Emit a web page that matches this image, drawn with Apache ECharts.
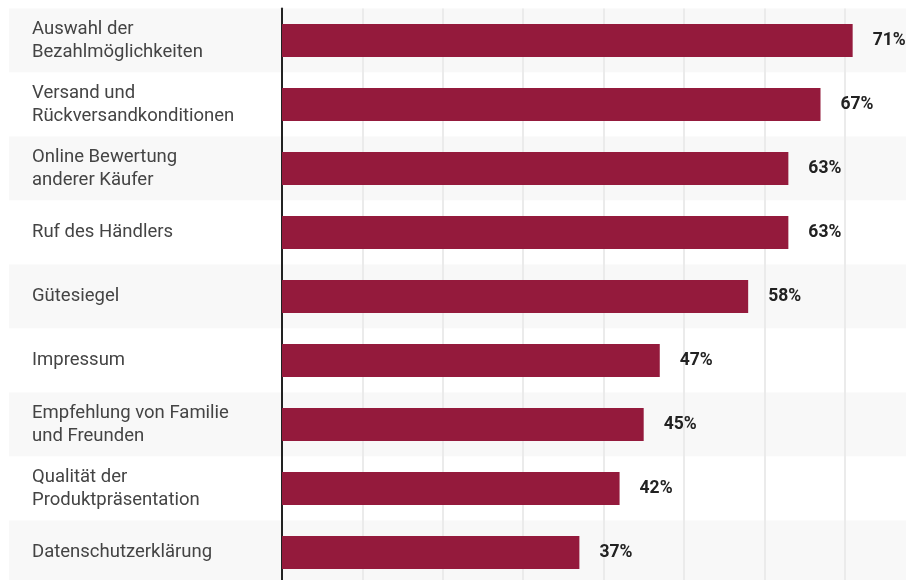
<!DOCTYPE html>
<html>
<head>
<meta charset="utf-8">
<script src="https://cdn.jsdelivr.net/npm/echarts@6/dist/echarts.min.js"></script>
<style>
  html, body { margin: 0; padding: 0; background: #fff; }
  #chart { width: 906px; height: 580px; }
</style>
</head>
<body>
<div id="chart"></div>
<script>
// Kriterien beim Online-Einkauf (Anteil der Befragten in %)
const categories = [
  'Auswahl der\nBezahlmöglichkeiten',
  'Versand und\nRückversandkonditionen',
  'Online Bewertung\nanderer Käufer',
  'Ruf des Händlers',
  'Gütesiegel',
  'Impressum',
  'Empfehlung von Familie\nund Freunden',
  'Qualität der\nProduktpräsentation',
  'Datenschutzerklärung'
];
const values = [71, 67, 63, 63, 58, 47, 45, 42, 37];

const chart = echarts.init(document.getElementById('chart'), null, { renderer: 'canvas' });

const font = 'Roboto, "Noto Sans", sans-serif';

chart.setOption({
  animation: false,
  backgroundColor: '#ffffff',
  grid: [
    // full-width row bands behind everything
    { left: 9, top: 8.5, width: 920, height: 576, containLabel: false, outerBoundsMode: 'none' },
    // plotting area
    { left: 282, top: 8.5, width: 643, height: 576, containLabel: false, outerBoundsMode: 'none' }
  ],
  xAxis: [
    { gridIndex: 0, type: 'value', min: 0, max: 1, show: false },
    {
      gridIndex: 1,
      type: 'value',
      min: 0,
      max: 80,
      interval: 10,
      axisLine: { show: false },
      axisTick: { show: false },
      axisLabel: { show: false },
      splitLine: { show: true, lineStyle: { color: '#ebebeb', width: 2 } }
    }
  ],
  yAxis: [
    {
      gridIndex: 0,
      type: 'category',
      inverse: true,
      data: categories,
      axisLine: { show: false },
      axisTick: { show: false },
      axisLabel: { show: false },
      splitLine: { show: false },
      splitArea: { show: true, areaStyle: { color: ['#f8f8f8', '#ffffff'] } }
    },
    {
      gridIndex: 1,
      type: 'category',
      inverse: true,
      data: categories,
      axisLine: { show: true, lineStyle: { color: '#222222', width: 2 } },
      axisTick: { show: false },
      splitLine: { show: false },
      axisLabel: {
        align: 'left',
        margin: 250,
        color: '#444444',
        fontFamily: font,
        fontSize: 18.5,
        lineHeight: 23
      }
    }
  ],
  series: [
    {
      type: 'bar',
      xAxisIndex: 1,
      yAxisIndex: 1,
      data: values,
      barWidth: 33,
      itemStyle: { color: '#941a3c' },
      label: {
        show: true,
        position: 'right',
        distance: 20,
        formatter: '{c}%',
        color: '#222222',
        fontFamily: font,
        fontWeight: 'bold',
        fontSize: 17.5
      },
      z: 3
    }
  ]
});
</script>
</body>
</html>
